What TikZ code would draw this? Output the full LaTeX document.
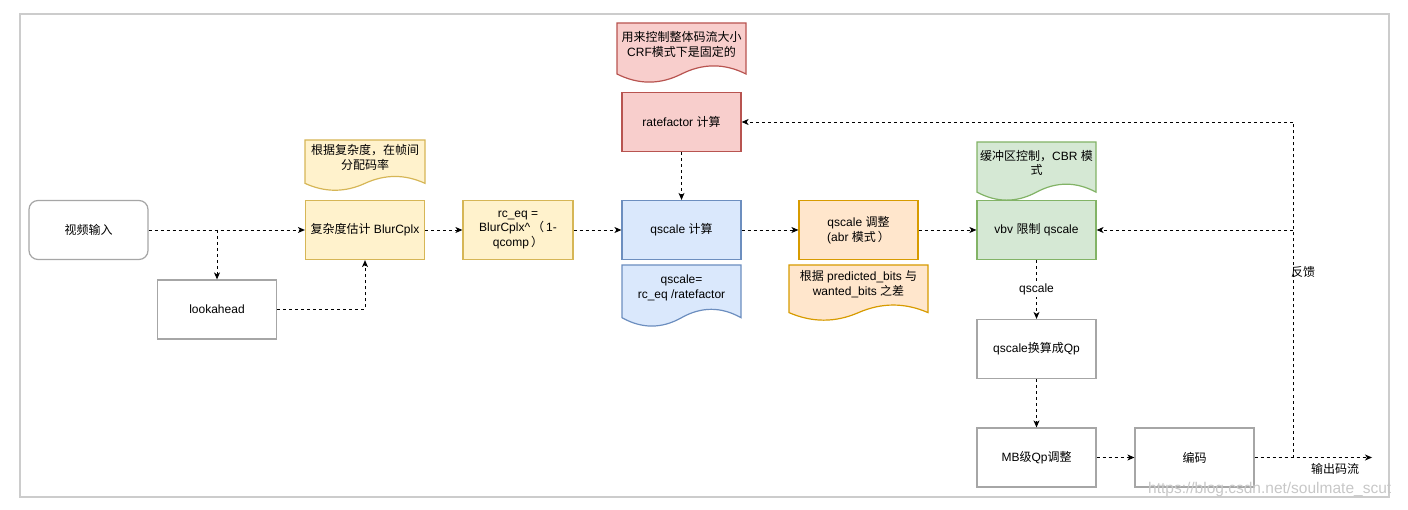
\documentclass[tikz,border=0pt]{standalone}
\usepackage{fontspec}
\setmainfont{Liberation Sans}
\newfontfamily\cjk{Noto Sans CJK SC}
\newcommand\zh[1]{{\cjk #1}}
\usetikzlibrary{arrows.meta}
\definecolor{yelF}{HTML}{FFF2CC}\definecolor{yelS}{HTML}{D6B656}
\definecolor{redF}{HTML}{F8CECC}\definecolor{redS}{HTML}{B85450}
\definecolor{bluF}{HTML}{DAE8FC}\definecolor{bluS}{HTML}{6C8EBF}
\definecolor{oraF}{HTML}{FFE6CC}\definecolor{oraS}{HTML}{D79B00}
\definecolor{grnF}{HTML}{D5E8D4}\definecolor{grnS}{HTML}{82B366}
\definecolor{boxS}{HTML}{A6A6A6}
\definecolor{frameS}{HTML}{CCCCCC}
\newcommand\docnote[9]{%
  \draw[fill=#6, draw=#7, line width=1.2pt] (#2,#3) -- ({#2+#4},#3) -- ({#2+#4},{#3+0.85*#5})
    .. controls ({#2+0.8333*#4},{#3+0.67*#5}) and ({#2+0.6667*#4},{#3+0.67*#5}) .. ({#2+0.5*#4},{#3+0.85*#5})
    .. controls ({#2+0.3333*#4},{#3+1.03*#5}) and ({#2+0.1667*#4},{#3+1.03*#5}) .. (#2,{#3+0.85*#5}) -- cycle;
  \node[notetext] (#1) at ({#2+0.5*#4},{#3+#8}) {#9};
}
\begin{document}
\begin{tikzpicture}[x=1pt,y=-1pt,
  every node/.style={font=\fontsize{12}{14.5}\selectfont},
  box/.style={draw=boxS, line width=1.2pt, fill=white, minimum width=119pt, minimum height=59pt, align=center, inner sep=2pt},
  yel/.style={fill=yelF, draw=yelS},
  redb/.style={fill=redF, draw=redS},
  blu/.style={fill=bluF, draw=bluS},
  ora/.style={fill=oraF, draw=oraS},
  grn/.style={fill=grnF, draw=grnS},
  notetext/.style={align=center, inner sep=1pt},
  arr/.style={draw=black, line width=0.9pt, dash pattern=on 3pt off 3pt, -{Stealth[length=7pt,width=6pt,inset=2pt]}},
  lbl/.style={fill=white, inner sep=2pt}
]
\useasboundingbox (0,0) rectangle (1408,510);
\draw[frameS, line width=1.2pt] (20,14) rectangle (1389,497);

% notes
\docnote{nblur}{305}{140}{120}{51}{yelF}{yelS}{17.5}{\zh{根据复杂度，在帧间}\\\zh{分配码率}}
\docnote{nrf}{617}{23}{129}{60}{redF}{redS}{21.5}{\zh{用来控制整体码流大小}\\CRF\zh{模式下是固定的}}
\docnote{nqs}{622}{265}{119}{62}{bluF}{bluS}{23}{qscale=\\rc\_eq /ratefactor}
\docnote{nadj}{789}{265}{139}{56}{oraF}{oraS}{19}{\zh{根据} predicted\_bits \zh{与}\\wanted\_bits \zh{之差}}
\docnote{nvbv}{977}{142}{119}{59}{grnF}{grnS}{21}{\zh{缓冲区控制，}CBR \zh{模}\\\zh{式}}

% boxes
\node[box, rounded corners=9pt] (in) at (88.5,230) {\zh{视频输入}};
\node[box] (look) at (217,309.5) {lookahead};
\node[box, yel] (blur) at (365,230) {\zh{复杂度估计} BlurCplx};
\node[box, yel, minimum width=110pt] (rceq) at (518,230) {rc\_eq =\\BlurCplx\textasciicircum\,\zh{（}\,1-\\qcomp\,\zh{）}};
\node[box, redb] (rf) at (681.5,122) {ratefactor \zh{计算}};
\node[box, blu] (qs) at (681.5,230) {qscale \zh{计算}};
\node[box, ora] (adj) at (858.5,230) {qscale \zh{调整}\\(abr \zh{模式}\,\zh{）}};
\node[box, grn] (vbv) at (1036.5,230) {vbv \zh{限制} qscale};
\node[box] (qp) at (1036.5,349) {qscale\zh{换算成}Qp};
\node[box] (mb) at (1036.5,457.5) {MB\zh{级}Qp\zh{调整}};
\node[box] (enc) at (1194.5,457.5) {\zh{编码}};

\coordinate (out) at (1372,457.5);
\coordinate (fb) at (1293,457.5);

% connectors
\draw[arr] (in) -- (blur);
\draw[arr] (in.east -| look.north) -- (look.north);
\draw[arr] (look.east) -| (blur.south);
\draw[arr] (blur) -- (rceq);
\draw[arr] (rceq) -- (qs);
\draw[arr] (rf) -- (qs);
\draw[arr] (qs) -- (adj);
\draw[arr] (adj) -- (vbv);
\draw[arr] (vbv) -- node[lbl] (lq) {qscale} (qp);
\draw[arr] (qp) -- (mb);
\draw[arr] (mb) -- (enc);
\draw[arr] (enc) -- (out);
\draw[arr] (fb) |- (rf.east);
\draw[arr] (fb |- vbv.east) -- (vbv.east);

\node (lfb) at (1303,272) {\zh{反馈}};
\node (lout) at (1335,469) {\zh{输出码流}};
\node[anchor=west, text=black!22, font=\fontsize{15.5}{15.5}\selectfont, inner sep=0pt] (wm) at (1148,489) {https://blog.csdn.net/soulmate\_scut};
\end{tikzpicture}
\end{document}
